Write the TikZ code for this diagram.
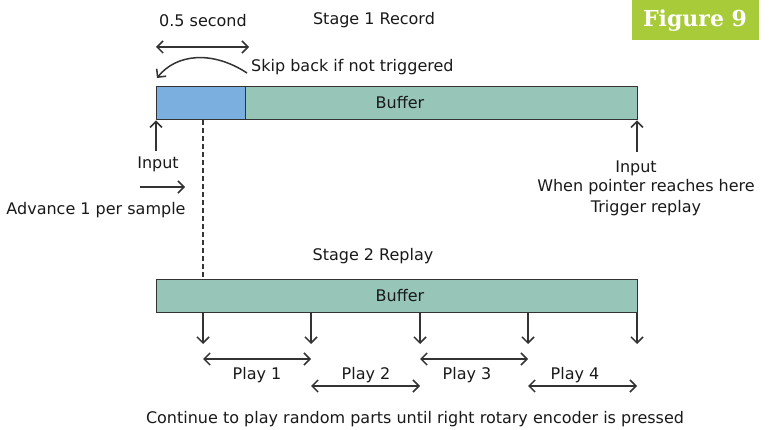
\documentclass[tikz,border=0pt]{standalone}
\usepackage{fontspec}
\setmainfont{DejaVu Sans}
\newfontfamily\badgefont{DejaVu Serif}
\usetikzlibrary{arrows.meta}
\definecolor{bufgreen}{HTML}{97C6B8}
\definecolor{bufblue}{HTML}{7BAFE0}
\definecolor{badgegreen}{HTML}{A8CB3A}
\definecolor{ink}{HTML}{333333}
\begin{document}
\begin{tikzpicture}[x=1pt,y=-1pt,
  txt/.style={font=\fontsize{16}{18}\selectfont, text=black!90, inner sep=0pt},
  buf/.style={draw=ink, line width=1.4pt, fill=bufgreen, anchor=north west, minimum height=33pt, inner sep=0pt},
  arr/.style={draw=ink, line width=1.5pt, -{Straight Barb[length=6pt,width=12pt]}},
  darr/.style={draw=ink, line width=1.5pt, {Straight Barb[length=6pt,width=12pt]}-{Straight Barb[length=6pt,width=12pt]}}]
\useasboundingbox (0,0) rectangle (773,430);
% badge
\node[fill=badgegreen, anchor=north west, minimum width=127pt, minimum height=40pt, inner sep=0pt] (badge) at (632,0) {};
\node[text=white, font=\badgefont\bfseries\fontsize{22}{24}\selectfont, inner sep=0pt] (badgetxt) at (695,21) {Figure 9};
% stage 1
\node[txt] (st1) at (374,20) {Stage 1 Record};
\node[txt] (half) at (203,21) {0.5 second};
\coordinate (h1) at (156,47);
\coordinate (h2) at (249,47);
\draw[darr] (h1) -- (h2);
\coordinate (sk1) at (247,73);
\coordinate (sk2) at (157,78);
\draw[arr] (sk1) .. controls (212,50) and (176,54) .. (sk2);
\node[txt, anchor=west] (skip) at (251,67) {Skip back if not triggered};
\node[buf, minimum width=481pt] (buf1) at (156,86) {};
\node[draw=ink, line width=1.4pt, fill=bufblue, anchor=north west, minimum width=89pt, minimum height=33pt, inner sep=0pt] (blue) at (156,86) {};
\node[txt] (b1txt) at (400,103) {Buffer};
\coordinate (in1) at (156,151);
\draw[arr] (in1) -- (in1 |- buf1.south);
\node[txt] (input1) at (158,164) {Input};
\coordinate (adv1) at (140,187);
\coordinate (adv2) at (185,187);
\draw[arr] (adv1) -- (adv2);
\node[txt] (advance) at (96,210) {Advance 1 per sample};
\coordinate (in2) at (637,152);
\draw[arr] (in2) -- (in2 |- buf1.south);
\node[txt] (input2) at (636,168) {Input};
\node[txt] (when) at (646,187) {When pointer reaches here};
\node[txt] (trig) at (646,208) {Trigger replay};
% stage 2
\node[txt] (st2) at (373,256) {Stage 2 Replay};
\node[buf, minimum width=481pt] (buf2) at (156,279) {};
\node[txt] (b2txt) at (400,296) {Buffer};
\coordinate (dtop) at (203,120);
\coordinate (dbot) at (203,279);
\draw[draw=ink, line width=1.3pt, dash pattern=on 5pt off 3pt] (dtop) -- (dbot);
% down arrows
\foreach \i/\x in {1/203,2/311,3/420,4/528,5/637}{
  \coordinate (t\i) at (\x,312);
  \coordinate (d\i) at (\x,344);
  \draw[arr] (t\i) -- (d\i);
}
% play spans
\coordinate (a1) at (203,359); \coordinate (a2) at (311,359);
\coordinate (a3) at (420,359); \coordinate (a4) at (528,359);
\coordinate (c2) at (311,386); \coordinate (c3) at (420,386);
\coordinate (c4) at (528,386); \coordinate (c5) at (637,386);
\draw[darr] (a1) -- (a2);
\draw[darr] (c2) -- (c3);
\draw[darr] (a3) -- (a4);
\draw[darr] (c4) -- (c5);
\node[txt] (pl1) at (257,375) {Play 1};
\node[txt] (pl2) at (366,375) {Play 2};
\node[txt] (pl3) at (467,375) {Play 3};
\node[txt] (pl4) at (575,375) {Play 4};
\node[txt] (cont) at (415,419) {Continue to play random parts until right rotary encoder is pressed};
\end{tikzpicture}
\end{document}
